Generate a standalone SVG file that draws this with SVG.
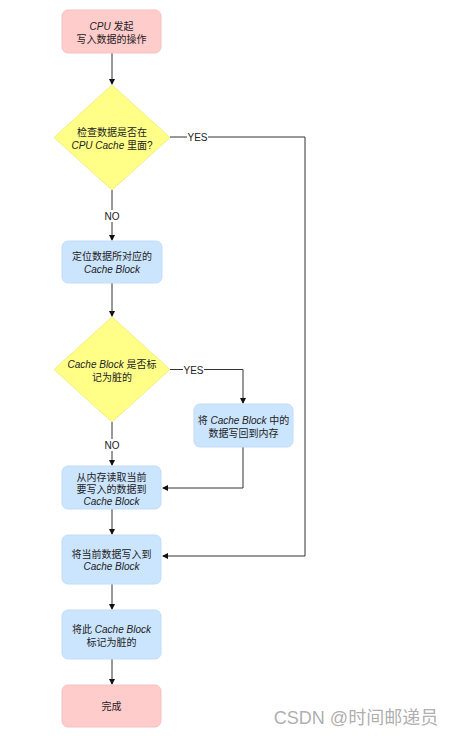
<svg xmlns="http://www.w3.org/2000/svg" width="456" height="736" viewBox="0 0 456 736">
<style>
.t{font-family:"Liberation Sans","Noto Sans CJK SC",sans-serif;font-size:10px;fill:#222;text-anchor:middle}
.i{font-style:italic}
.pink{fill:#ffcccc;stroke:#f5c2c2;stroke-width:1}
.blue{fill:#cce5ff;stroke:#c2dcf5;stroke-width:1}
.yel{fill:#ffff88;stroke:#f0f080;stroke-width:1}
.ln{fill:none;stroke:#333;stroke-width:1;marker-end:url(#a)}
.lbl{font-family:"Liberation Sans",sans-serif;font-size:10px;fill:#222;text-anchor:middle}
</style>
<defs>
<marker id="a" markerWidth="6" markerHeight="6" refX="5" refY="3" orient="auto" markerUnits="userSpaceOnUse">
<path d="M0,0 L6,3 L0,6 Z" fill="#111"/>
</marker>
</defs>
<rect width="456" height="736" fill="#fff"/>
<g id="connectors">
<path class="ln" d="M112,53 V84"/>
<path class="ln" d="M112,190 V240"/>
<path class="ln" d="M112,283 V316"/>
<path class="ln" d="M112,422 V465"/>
<path class="ln" d="M170,137 H305 V556 H163"/>
<path class="ln" d="M170,369.5 H243 V403"/>
<path class="ln" d="M243,447 V488 H163"/>
<path class="ln" d="M112,509 V534"/>
<path class="ln" d="M112,584 V609"/>
<path class="ln" d="M112,659 V684"/>
<rect x="187" y="131" width="21" height="12" fill="#fff"/>
<text class="lbl" x="197.5" y="141">YES</text>
<rect x="183" y="364" width="21" height="12" fill="#fff"/>
<text class="lbl" x="193.5" y="374">YES</text>
<rect x="103" y="210" width="18" height="12" fill="#fff"/>
<text class="lbl" x="112" y="220">NO</text>
<rect x="103" y="439" width="18" height="12" fill="#fff"/>
<text class="lbl" x="112" y="449">NO</text>
</g>
<g id="start">
<rect class="pink" x="62" y="10" width="99" height="43" rx="6"/>
<text class="t" x="111.5" y="30"><tspan class="i">CPU</tspan> 发起</text>
<text class="t" x="111.5" y="43">写入数据的操作</text>
</g>
<g id="check-cache">
<path class="yel" d="M112,85 L170,137.5 L112,190 L54,137.5 Z"/>
<text class="t" x="112" y="136">检查数据是否在</text>
<text class="t" x="112" y="149"><tspan class="i">CPU Cache</tspan> 里面?</text>
</g>
<g id="locate">
<rect class="blue" x="62" y="241" width="100" height="42" rx="6"/>
<text class="t" x="112" y="260">定位数据所对应的</text>
<text class="t" x="112" y="273" font-style="italic">Cache Block</text>
</g>
<g id="check-dirty">
<path class="yel" d="M112,317 L170,369.5 L112,422 L54,369.5 Z"/>
<text class="t" x="112" y="368"><tspan class="i">Cache Block</tspan> 是否标</text>
<text class="t" x="112" y="381">记为脏的</text>
</g>
<g id="write-back">
<rect class="blue" x="194" y="404" width="99" height="43" rx="6"/>
<text class="t" x="243.5" y="424">将 <tspan class="i">Cache Block</tspan> 中的</text>
<text class="t" x="243.5" y="437">数据写回到内存</text>
</g>
<g id="read-mem">
<rect class="blue" x="62" y="466" width="99" height="43" rx="6"/>
<text class="t" x="111.5" y="481">从内存读取当前</text>
<text class="t" x="111.5" y="493">要写入的数据到</text>
<text class="t" x="111.5" y="505" font-style="italic">Cache Block</text>
</g>
<g id="write-cache">
<rect class="blue" x="62" y="535" width="99" height="49" rx="6"/>
<text class="t" x="111.5" y="558">将当前数据写入到</text>
<text class="t" x="111.5" y="570" font-style="italic">Cache Block</text>
</g>
<g id="mark-dirty">
<rect class="blue" x="62" y="610" width="99" height="49" rx="6"/>
<text class="t" x="111.5" y="633">将此 <tspan class="i">Cache Block</tspan></text>
<text class="t" x="111.5" y="646">标记为脏的</text>
</g>
<g id="done">
<rect class="pink" x="62" y="685" width="99" height="42" rx="6"/>
<text class="t" x="111.5" y="710">完成</text>
</g>
<text x="356" y="724" font-family="'Liberation Sans','Noto Sans CJK SC',sans-serif" font-size="18" fill="#999" fill-opacity="0.8" text-anchor="middle">CSDN @时间邮递员</text>
</svg>
